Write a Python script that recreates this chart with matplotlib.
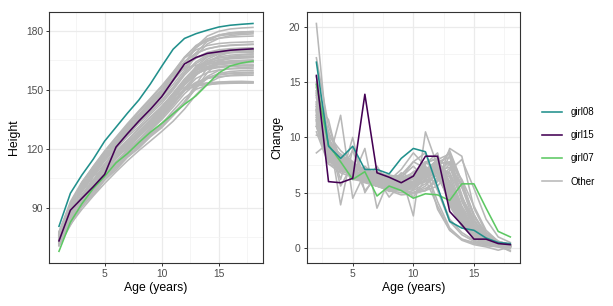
import numpy as np
import matplotlib
matplotlib.use("Agg")
import matplotlib.pyplot as plt
from matplotlib.ticker import MultipleLocator
from matplotlib.lines import Line2D

plt.rcParams['font.family'] = ['Liberation Sans', 'DejaVu Sans']

ages = [1, 2, 3, 4, 5, 6, 7, 8, 9, 10, 11, 12, 13, 14, 15, 16, 17, 18]

girl08 = [80.5, 97.3, 106.5, 114.6, 123.8, 130.9, 138.0, 144.7, 152.8, 161.8,
          170.5, 176.0, 178.4, 180.2, 181.8, 182.7, 183.2, 183.6]
girl15 = [73.1, 88.7, 94.7, 100.6, 106.9, 120.8, 127.6, 134.0, 139.9, 146.4,
          154.7, 163.0, 166.3, 168.4, 169.2, 170.0, 170.4, 170.7]
girl07 = [67.8, 82.6, 91.9, 99.7, 105.9, 112.8, 117.5, 123.1, 128.3, 132.8,
          137.7, 142.5, 146.8, 152.6, 158.4, 162.0, 163.5, 164.5]

# the rest of the girls (grey)
other_heights = [
    [76.5, 90.5, 100.0, 108.2, 115.8, 122.8, 129.4, 135.6, 141.6, 148.0, 155.8, 163.8, 168.4, 170.8, 172.0, 172.6, 172.9, 173.1],
    [74.0, 86.5, 95.3, 102.8, 109.9, 116.3, 122.6, 128.5, 134.1, 140.0, 147.2, 154.8, 159.6, 161.9, 162.9, 163.4, 163.7, 163.8],
    [71.5, 82.5, 90.5, 97.5, 104.1, 110.1, 115.7, 121.0, 126.2, 131.2, 136.8, 143.8, 151.1, 155.6, 157.6, 158.4, 158.7, 158.9],
    [77.5, 93.0, 103.0, 110.8, 118.2, 125.4, 131.9, 138.5, 144.9, 151.4, 158.4, 166.4, 172.4, 175.8, 177.3, 178.1, 178.6, 178.9],
    [72.0, 84.5, 93.0, 100.4, 106.9, 113.1, 118.9, 124.5, 130.8, 138.6, 145.8, 150.0, 151.8, 152.6, 153.0, 153.2, 153.3, 153.3],
    [75.0, 86.8, 95.4, 103.2, 110.1, 116.7, 122.8, 128.5, 133.9, 139.5, 146.1, 153.9, 160.4, 163.6, 165.0, 165.6, 166.0, 166.2],
    [76.0, 89.2, 98.6, 107.1, 114.8, 121.2, 128.1, 134.2, 141.3, 149.9, 157.3, 160.8, 162.4, 163.2, 163.7, 164.0, 164.2, 164.3],
    [72.5, 83.0, 90.6, 97.8, 104.7, 110.8, 116.6, 121.7, 127.0, 132.0, 137.2, 143.6, 151.2, 156.7, 159.7, 160.7, 161.2, 161.5],
    [76.8, 91.3, 101.8, 109.8, 117.4, 124.2, 130.9, 137.2, 143.4, 149.4, 155.7, 163.3, 171.1, 175.6, 177.8, 178.8, 179.2, 179.5],
    [76.5, 90.5, 100.3, 108.5, 116.1, 123.1, 129.7, 136.0, 142.0, 148.2, 155.2, 163.2, 171.7, 177.2, 179.6, 180.8, 181.3, 181.6],
    [73.5, 86.3, 95.3, 102.3, 109.3, 115.3, 121.5, 127.3, 132.8, 138.5, 146.1, 154.7, 158.7, 161.3, 162.7, 163.2, 163.6, 163.8],
    [74.5, 86.0, 93.8, 105.8, 110.3, 117.1, 123.0, 128.8, 134.4, 140.4, 147.4, 154.8, 160.0, 162.8, 163.9, 164.4, 164.6, 164.7],
    [75.5, 88.5, 99.0, 102.9, 111.9, 118.4, 124.4, 130.2, 136.0, 141.4, 148.2, 155.4, 161.4, 164.4, 166.0, 166.7, 167.0, 167.1],
    [71.0, 91.3, 100.3, 107.9, 114.9, 121.2, 127.2, 132.9, 138.5, 144.2, 150.7, 158.3, 164.1, 167.6, 169.2, 169.9, 170.2, 170.4],
    [76.0, 84.6, 94.1, 101.9, 108.9, 115.4, 121.4, 127.2, 132.7, 138.3, 144.9, 152.9, 157.9, 160.5, 161.7, 162.2, 162.4, 162.5],
    [74.0, 86.2, 94.6, 102.0, 109.0, 115.2, 121.2, 126.8, 133.4, 136.3, 146.8, 154.2, 158.2, 160.2, 161.2, 161.7, 162.0, 162.1],
    [73.0, 85.0, 93.2, 100.8, 107.2, 116.2, 119.8, 126.0, 131.8, 137.4, 143.4, 150.6, 157.4, 161.2, 163.2, 164.0, 164.4, 164.6],
    [72.0, 83.4, 91.2, 98.4, 105.0, 111.2, 116.9, 122.1, 127.3, 132.3, 137.7, 143.7, 152.7, 161.0, 164.6, 166.0, 166.6, 166.9],
    [70.5, 81.5, 89.1, 95.9, 102.3, 108.2, 113.8, 119.0, 123.8, 128.7, 133.9, 140.1, 147.3, 153.1, 156.1, 157.3, 157.8, 158.0],
    [75.2, 87.8, 96.0, 103.2, 109.9, 116.3, 122.6, 128.6, 134.4, 140.7, 148.0, 154.8, 158.8, 160.8, 161.7, 162.2, 162.4, 162.5],
    [76.2, 90.0, 99.2, 107.1, 114.4, 121.3, 127.7, 133.9, 140.1, 146.7, 154.5, 161.5, 166.1, 168.9, 170.2, 170.8, 171.1, 171.3],
    [73.0, 84.6, 93.0, 100.0, 106.6, 112.6, 118.5, 124.2, 130.1, 137.0, 144.4, 149.6, 152.0, 153.2, 153.8, 154.1, 154.2, 154.0],
    [74.8, 86.8, 95.4, 103.0, 109.8, 116.3, 122.3, 128.0, 133.5, 138.8, 145.0, 152.8, 160.4, 164.6, 166.6, 167.5, 167.9, 168.1],
    [73.8, 87.0, 95.0, 102.4, 109.0, 115.2, 121.8, 127.2, 132.6, 138.4, 145.2, 152.2, 157.8, 161.0, 162.8, 163.5, 163.8, 164.0],
    [75.8, 90.8, 100.6, 108.9, 116.4, 123.4, 130.2, 136.6, 142.9, 149.7, 157.5, 164.3, 168.5, 170.7, 171.9, 172.4, 172.7, 172.9],
    [77.2, 92.0, 102.2, 111.0, 118.8, 125.8, 132.7, 139.2, 145.5, 151.9, 158.9, 166.5, 171.9, 174.7, 176.1, 176.7, 177.0, 177.2],
    [72.8, 85.1, 93.1, 100.4, 106.8, 112.8, 118.4, 123.7, 129.1, 134.7, 141.1, 147.9, 153.1, 156.1, 157.5, 158.1, 158.4, 158.6],
    [74.2, 87.0, 95.8, 103.2, 110.2, 116.5, 122.6, 128.4, 133.9, 139.5, 145.7, 153.5, 161.7, 166.5, 168.3, 169.1, 169.5, 169.7],
    [71.2, 83.0, 91.0, 98.4, 104.6, 110.6, 116.2, 121.7, 126.9, 132.5, 139.3, 145.7, 150.1, 152.3, 153.3, 153.7, 153.9, 153.6],
    [75.8, 88.2, 96.6, 104.2, 111.4, 117.8, 124.0, 130.0, 135.6, 141.4, 147.4, 154.0, 160.8, 165.4, 168.0, 169.0, 169.5, 169.7],
    [76.0, 90.2, 99.2, 107.6, 115.2, 122.2, 128.8, 135.2, 141.8, 149.6, 158.2, 163.6, 166.2, 167.6, 168.3, 168.7, 168.9, 169.0],
    [73.2, 85.2, 93.4, 100.4, 107.2, 113.4, 119.0, 124.5, 129.9, 135.7, 142.9, 149.9, 153.7, 155.7, 156.6, 157.0, 157.2, 157.3],
    [75.0, 88.8, 98.4, 106.4, 113.6, 120.4, 126.7, 132.9, 138.8, 144.8, 151.2, 158.6, 167.2, 173.2, 176.0, 177.4, 178.0, 178.3],
    [74.6, 85.8, 94.6, 102.4, 109.8, 116.6, 122.8, 128.6, 134.2, 140.2, 147.0, 154.6, 160.0, 162.8, 164.0, 164.6, 164.9, 165.1],
    [73.6, 86.0, 94.6, 101.8, 108.4, 114.8, 120.6, 126.2, 131.6, 136.8, 142.6, 149.4, 157.2, 163.4, 167.2, 168.8, 169.4, 169.7],
    [77.8, 90.8, 102.4, 109.4, 118.2, 124.2, 131.6, 137.2, 144.0, 150.2, 157.8, 166.0, 170.2, 172.4, 173.4, 173.9, 174.1, 174.3],
    [70.8, 81.0, 90.8, 96.4, 104.0, 109.2, 115.6, 120.2, 126.0, 130.6, 136.8, 142.8, 151.2, 155.8, 158.2, 159.2, 159.6, 159.8],
    [74.0, 91.2, 102.2, 110.2, 117.2, 123.8, 129.8, 135.8, 141.4, 147.4, 154.4, 161.4, 166.0, 168.4, 169.6, 170.1, 170.3, 170.3],
    [72.6, 84.2, 92.4, 99.4, 106.0, 112.0, 117.6, 122.8, 127.8, 132.8, 138.0, 143.6, 150.6, 158.6, 164.0, 166.6, 167.6, 168.1],
    [75.4, 90.0, 97.8, 106.0, 112.2, 119.6, 126.0, 131.2, 137.4, 143.0, 149.8, 157.4, 163.2, 166.8, 168.4, 169.0, 169.2, 169.3],
    [73.3, 86.9, 95.3, 102.9, 109.5, 115.7, 121.5, 127.3, 133.7, 141.1, 147.3, 151.1, 152.7, 153.4, 153.7, 153.8, 153.6, 153.7],
    [76.4, 90.6, 100.0, 108.0, 115.4, 122.0, 128.4, 134.4, 140.2, 146.2, 152.6, 159.8, 168.6, 174.6, 177.6, 178.8, 179.3, 179.5],
    [74.4, 85.4, 95.0, 101.2, 111.2, 116.2, 123.0, 128.4, 134.0, 139.8, 146.4, 153.4, 159.8, 163.4, 165.2, 166.0, 166.3, 166.5],
    [72.2, 85.0, 93.8, 100.8, 107.6, 113.6, 119.2, 124.6, 130.2, 135.6, 142.2, 149.6, 155.6, 158.6, 160.0, 160.5, 160.7, 160.8],
]

highlight = {"girl08": (girl08, "#21908C"),
             "girl15": (girl15, "#440154"),
             "girl07": (girl07, "#5DC863")}
grey = "#B8B8B8"
lw = 1.15

fig = plt.figure(figsize=(6.13, 3.06), dpi=100)
ax1 = fig.add_axes([0.0804, 0.1415, 0.3481, 0.819])
ax2 = fig.add_axes([0.5003, 0.1415, 0.348, 0.819])

x = np.array(ages)
for h in other_heights:
    h = np.array(h)
    ax1.plot(x, h, c=grey, lw=lw)
    ax2.plot(x[1:], np.diff(h), c=grey, lw=lw)

for name in ["girl07", "girl08", "girl15"]:
    h, col = highlight[name]
    h = np.array(h)
    ax1.plot(x, h, c=col, lw=lw)
    ax2.plot(x[1:], np.diff(h), c=col, lw=lw)

for ax, ylab in [(ax1, "Height"), (ax2, "Change")]:
    ax.set_facecolor("white")
    ax.grid(True, which="major", color="#EBEBEB", lw=0.9, zorder=0)
    ax.grid(True, which="minor", color="#F2F2F2", lw=0.5, zorder=0)
    ax.set_axisbelow(True)
    ax.xaxis.set_major_locator(MultipleLocator(5))
    ax.xaxis.set_minor_locator(MultipleLocator(2.5))
    for s in ax.spines.values():
        s.set_color("#333333")
        s.set_linewidth(0.8)
    ax.tick_params(which="major", length=2.5, width=0.7, color="#333333",
                   labelsize=7.4, labelcolor="#4D4D4D", pad=2)
    ax.tick_params(which="minor", length=0)
    ax.set_xlabel("Age (years)", fontsize=8.8, labelpad=2)
    ax.set_ylabel(ylab, fontsize=8.8, labelpad=4)

ax1.set_yticks([90, 120, 150, 180])
ax1.yaxis.set_minor_locator(MultipleLocator(15))
ax2.set_yticks([0, 5, 10, 15, 20])
ax2.yaxis.set_minor_locator(MultipleLocator(2.5))

labels = ["girl08", "girl15", "girl07", "Other"]
cols = [highlight["girl08"][1], highlight["girl15"][1], highlight["girl07"][1], grey]
handles = [Line2D([], [], c=c, lw=lw) for c in cols]
fig.legend(handles, labels, loc="center left", bbox_to_anchor=(0.884, 0.52),
           frameon=False, fontsize=7, handlelength=2.1, handletextpad=0.85,
           labelspacing=1.35, borderpad=0, borderaxespad=0)

fig.savefig("out.png", dpi=100)
